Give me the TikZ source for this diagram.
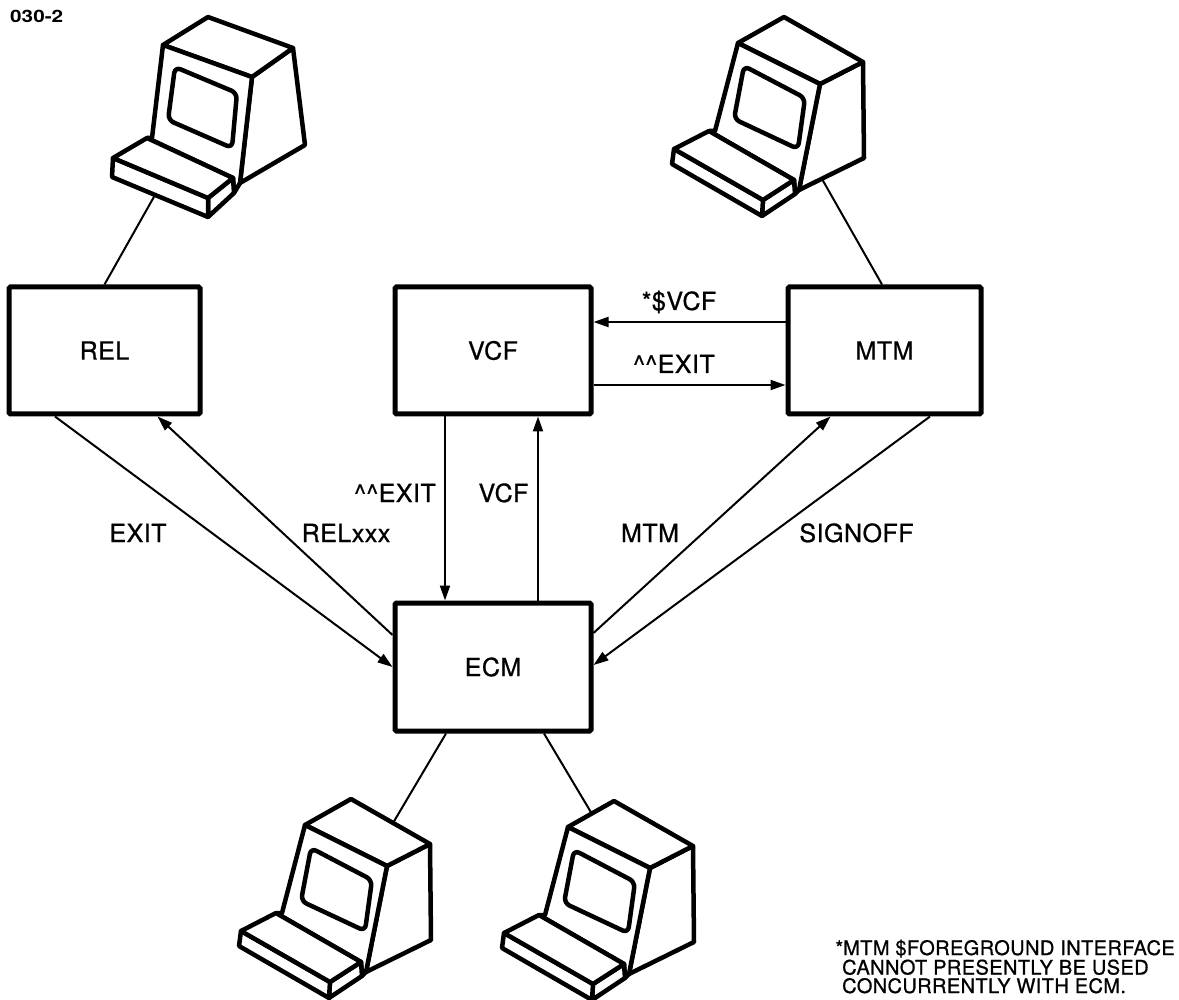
\documentclass[tikz,border=0pt]{standalone}
\usepackage{fontspec}
\setmainfont{TeX Gyre Heros}
\newfontfamily\labfont{TeX Gyre Heros}[FakeBold=0.8, LetterSpace=2]
\usetikzlibrary{arrows.meta}
\tikzset{
  box/.style={draw, line width=5pt, inner sep=0pt, outer sep=2.5pt, minimum height=127pt,
    rounded corners=1.5pt, font=\labfont\fontsize{25}{30}\selectfont},
  lab/.style={anchor=base, inner sep=0pt, font=\labfont\fontsize{25}{30}\selectfont},
  note/.style={anchor=base west, inner sep=0pt, font=\labfont\fontsize{20}{24}\selectfont},
  flow/.style={line width=2pt, -{Triangle[length=15pt,width=10pt]}},
  wire/.style={line width=2pt},
  tline/.style={line width=4.5pt, line join=round, fill=white},
  pics/termA/.style={code={
    \filldraw[tline] (89,32) -- (130,3) -- (142,100) -- (77,138) -- cycle;
    \filldraw[tline] (0,0) -- (45,-28) -- (130,3) -- (89,32) -- cycle;
    \filldraw[tline] (0,0) -- (89,32) -- (77,138) -- (71,148) -- (70,133) -- (-16,93) -- (-11,93) -- cycle;
    \draw[tline, rounded corners=6pt] (12,22) -- (74,48) -- (69,103) -- (5,75) -- cycle;
    \filldraw[tline] (45,153) -- (70,133) -- (71,148) -- (45,172) -- cycle;
    \filldraw[tline] (-50,113) -- (45,153) -- (45,172) -- (-51,132) -- cycle;
    \filldraw[tline] (-50,113) -- (-16,93) -- (70,133) -- (45,153) -- cycle;
    \coordinate (-port) at (-8,150);
  }},
  pics/termB/.style={code={
    \filldraw[tline] (82,41) -- (125,19) -- (126,115) -- (61,147) -- cycle;
    \filldraw[tline] (0,0) -- (46,-26) -- (125,19) -- (82,41) -- cycle;
    \filldraw[tline] (0,0) -- (82,41) -- (61,147) -- (57,151) -- (56,137) -- (-29,88) -- (-23,88) -- cycle;
    \draw[tline, rounded corners=6pt] (6,23) -- (67,55) -- (60,106) -- (-4,76) -- cycle;
    \filldraw[tline] (25,157) -- (56,137) -- (57,151) -- (24,173) -- cycle;
    \filldraw[tline] (-64,106) -- (25,157) -- (24,173) -- (-66,121) -- cycle;
    \filldraw[tline] (-64,106) -- (-29,88) -- (56,137) -- (25,157) -- cycle;
    \coordinate (-side) at (84,136);
    \coordinate (-back) at (88,-2);
    \coordinate (-left) at (24,-13);
  }},
}
\begin{document}
\begin{tikzpicture}[x=1pt, y=-1pt]
  \fill[white] (0,0) rectangle (1179,1000);
  \useasboundingbox (0,0) rectangle (1179,1000);

  % header
  \node[anchor=base west, inner sep=0pt, font=\fontsize{17}{20}\selectfont\bfseries] (fig) at (10,23) {\scalebox{1.22}[1]{030-2}};

  % boxes
  \node[box, minimum width=191pt] (rel) at (104.5,350.5) {REL};
  \node[box, minimum width=196pt] (vcf) at (493,350.5) {VCF};
  \node[box, minimum width=193pt] (mtm) at (884.5,350.5) {MTM};
  \node[box, minimum width=196pt, minimum height=128pt] (ecm) at (493,667) {ECM};

  % terminals
  \pic (tl) at (163,45) {termA};
  \pic (tr) at (738,43) {termB};
  \pic (bl) at (305,825) {termB};
  \pic (br) at (568,827) {termB};

  % terminal wires
  \draw[wire] (tl-port) -- (rel.north);
  \draw[wire] (tr-side) -- ([xshift=-2.5pt]mtm.north);
  \draw[wire] ([xshift=-47pt]ecm.south) -- (bl-back);
  \draw[wire] ([xshift=51pt]ecm.south) -- (br-left);

  % flows
  \draw[flow] ([yshift=28.5pt]mtm.west) -- ([yshift=28.5pt]vcf.east);
  \draw[flow] ([yshift=-34.5pt]vcf.east) -- ([yshift=-34.5pt]mtm.west);
  \draw[flow] ([xshift=-48pt]vcf.south) -- ([xshift=-48pt]ecm.north);
  \draw[flow] ([xshift=45pt]ecm.north) -- ([xshift=45pt]vcf.south);
  \draw[flow] ([xshift=-49.5pt]rel.south) -- (ecm.west);
  \draw[flow] ([yshift=32pt]ecm.west) -- ([xshift=53pt]rel.south);
  \draw[flow] ([yshift=34pt]ecm.east) -- ([xshift=-54pt]mtm.south);
  \draw[flow] ([xshift=45.5pt]mtm.south) -- ([yshift=2pt]ecm.east);

  % labels
  \node[lab] (lsvcf) at (679,310) {*\$VCF};
  \node[lab] (lexith) at (674,373) {\textasciicircum\textasciicircum EXIT};
  \node[lab] (lexitv) at (395,502) {\textasciicircum\textasciicircum EXIT};
  \node[lab] (lvcf) at (503.5,502) {VCF};
  \node[lab] (lexit) at (138,542) {EXIT};
  \node[lab] (lrelxxx) at (346,542) {RELxxx};
  \node[lab] (lmtm) at (650,542) {MTM};
  \node[lab] (lsign) at (856.5,542) {SIGNOFF};

  % footnote
  \node[note] (fn1) at (843,955) {\llap{*}MTM \$FOREGROUND INTERFACE};
  \node[note] (fn2) at (842,974.5) {CANNOT PRESENTLY BE USED};
  \node[note] (fn3) at (842,993) {CONCURRENTLY WITH ECM.};
\end{tikzpicture}
\end{document}
